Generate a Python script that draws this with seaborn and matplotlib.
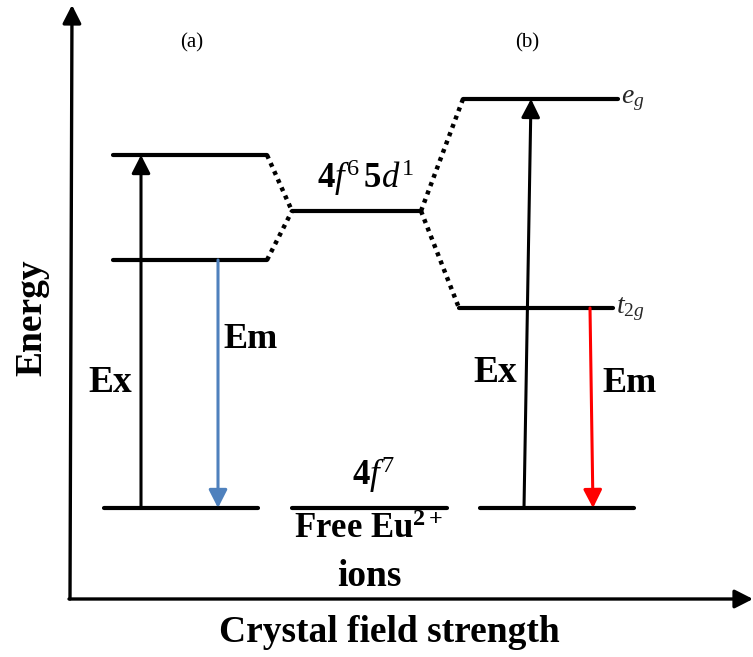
import matplotlib
matplotlib.use("Agg")
import matplotlib.pyplot as plt
import seaborn as sns
import pandas as pd

# ---------------- data ----------------
# energy levels: field-strength coordinate span (x0..x1) and energy (E)
level_names = ["a_5d_high", "a_5d_low", "free_5d", "b_eg", "b_t2g",
               "a_4f", "free_4f", "b_4f"]
level_x0 = [113, 113, 292, 463, 459, 104, 292, 480]
level_x1 = [267, 267, 421, 618, 613, 258, 447, 634]
level_E = [502, 397, 446, 558, 349, 149, 149, 149]

# dotted splitting connectors (from level, to level)
split_from = ["a_5d_high", "a_5d_low", "free_5d", "free_5d"]
split_to = ["free_5d", "free_5d", "b_eg", "b_t2g"]

# transitions (Ex / Em arrows)
trans_x0 = [141, 218, 524, 590]
trans_x1 = [141, 218, 531, 593]
trans_E0 = [149, 397, 149, 349]
trans_E1 = [502, 149, 558, 149]
trans_color = ["black", "#4f81bd", "black", "#ff0000"]

# ---------------- style ----------------
sns.set_theme(style="white")
plt.rcParams["font.family"] = ["Liberation Serif", "DejaVu Serif"]
plt.rcParams["mathtext.fontset"] = "custom"
plt.rcParams["mathtext.rm"] = "Liberation Serif"
plt.rcParams["mathtext.it"] = "Liberation Serif:italic"
plt.rcParams["mathtext.bf"] = "Liberation Serif:bold"

W, H = 753, 657
fig = plt.figure(figsize=(W / 100, H / 100), dpi=100)
ax = fig.add_axes([0, 0, 1, 1])
ax.set_xlim(0, W)
ax.set_ylim(0, H)
ax.axis("off")

# levels via seaborn
rows = []
for n, x0, x1, e in zip(level_names, level_x0, level_x1, level_E):
    rows.append({"level": n, "x": x0, "E": e})
    rows.append({"level": n, "x": x1, "E": e})
df_levels = pd.DataFrame(rows)
sns.lineplot(data=df_levels, x="x", y="E", units="level", estimator=None,
             color="black", linewidth=3.0, ax=ax, legend=False, sort=False)

# dotted connectors
idx = {n: i for i, n in enumerate(level_names)}
rows = []
for k, (a, b) in enumerate(zip(split_from, split_to)):
    ia, ib = idx[a], idx[b]
    rows.append({"c": k, "x": level_x1[ia], "E": level_E[ia]})
    rows.append({"c": k, "x": level_x0[ib], "E": level_E[ib]})
df_split = pd.DataFrame(rows)
sns.lineplot(data=df_split, x="x", y="E", units="c", estimator=None,
             color="black", linewidth=3.2, linestyle=(0, (0.9, 1.1)),
             ax=ax, legend=False, sort=False)

ax.set_xlabel("")
ax.set_ylabel("")

# transition arrows
for x0, x1, e0, e1, c in zip(trans_x0, trans_x1, trans_E0, trans_E1, trans_color):
    ax.annotate("", xy=(x1, e1), xytext=(x0, e0),
                arrowprops=dict(arrowstyle="-|>,head_width=0.28,head_length=0.55",
                                mutation_scale=20, lw=2.2, color=c,
                                shrinkA=0, shrinkB=0))

# axes arrows
ax.annotate("", xy=(72, H - 5), xytext=(70, H - 599),
            arrowprops=dict(arrowstyle="-|>,head_width=0.28,head_length=0.55",
                            mutation_scale=20, lw=2.4, color="black",
                            shrinkA=0, shrinkB=0))
ax.annotate("", xy=(753, H - 599), xytext=(69, H - 599),
            arrowprops=dict(arrowstyle="-|>,head_width=0.28,head_length=0.55",
                            mutation_scale=20, lw=2.4, color="black",
                            shrinkA=0, shrinkB=0))

# texts
def T(x, y, s, **kw):
    ax.text(x, H - y, s, ha="center", va="center", color="black", **kw)

T(192, 43, "(a)", fontsize=15)
T(527, 43, "(b)", fontsize=15)
T(365, 178, r"$\mathbf{4}\mathit{f}^{6}\,\mathbf{5}\mathit{d}^{1}$", fontsize=25)
ax.text(621, H - 100, r"$\mathit{e}_{\mathit{g}}$", fontsize=20, ha="left", va="center")
ax.text(616, H - 309, r"$\mathit{t}_{2\mathit{g}}$", fontsize=20, ha="left", va="center")
T(251, 340, "Em", fontsize=26, fontweight="bold")
T(110, 383, "Ex", fontsize=27, fontweight="bold")
T(495, 373, "Ex", fontsize=27, fontweight="bold")
T(630, 384, "Em", fontsize=26, fontweight="bold")
T(374, 475, r"$\mathbf{4}\mathit{f}^{7}$", fontsize=25)
T(369, 530, r"Free Eu$^{\mathbf{2+}}$", fontsize=25, fontweight="bold")
T(369, 576, "ions", fontsize=27, fontweight="bold")
T(32, 318, "Energy", fontsize=27, fontweight="bold", rotation=90)
T(389, 633, "Crystal field strength", fontsize=27, fontweight="bold")

fig.savefig("out.png", dpi=100)
